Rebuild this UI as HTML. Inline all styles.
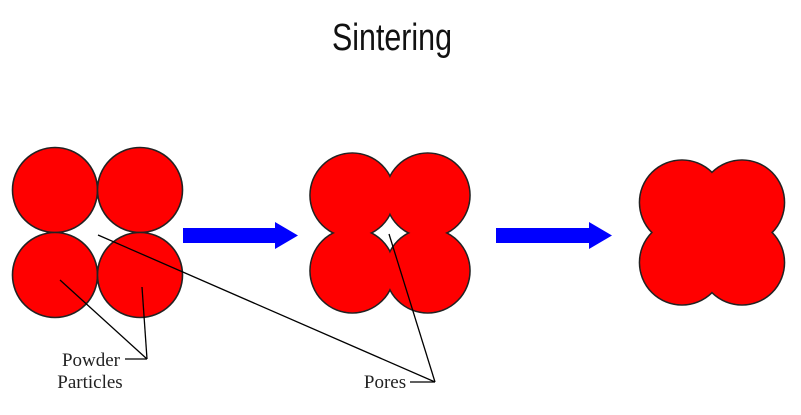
<!DOCTYPE html>
<html><head><style>
html,body{margin:0;padding:0;background:#fff;}
svg{display:block;}
</style></head><body>
<svg width="801" height="415" viewBox="0 0 801 415" xmlns="http://www.w3.org/2000/svg">
<text x="392" y="50" font-family="Liberation Sans, sans-serif" font-size="38" text-anchor="middle" transform="translate(392 0) scale(0.8 1) translate(-392 0)" fill="#111">Sintering</text>
<g stroke="#222" stroke-width="1.6" fill="#f00">
<circle cx="55" cy="190" r="42.5"/><circle cx="140" cy="190" r="42.5"/>
<circle cx="55" cy="275" r="42.5"/><circle cx="140" cy="275" r="42.5"/>
<circle cx="352.3" cy="195.3" r="42.3"/><circle cx="427.7" cy="195.3" r="42.3"/>
<circle cx="352.3" cy="270.7" r="42.3"/><circle cx="427.7" cy="270.7" r="42.3"/>
<circle cx="682" cy="202.5" r="42.5"/><circle cx="742" cy="202.5" r="42.5"/>
<circle cx="682" cy="262.5" r="42.5"/><circle cx="742" cy="262.5" r="42.5"/>
</g>
<g fill="#f00">
<circle cx="352.3" cy="195.3" r="41.5"/><circle cx="427.7" cy="195.3" r="41.5"/>
<circle cx="352.3" cy="270.7" r="41.5"/><circle cx="427.7" cy="270.7" r="41.5"/>
<circle cx="682" cy="202.5" r="41.7"/><circle cx="742" cy="202.5" r="41.7"/>
<circle cx="682" cy="262.5" r="41.7"/><circle cx="742" cy="262.5" r="41.7"/>
<rect x="692" y="212" width="40" height="40"/>
</g>
<polygon points="183,228 275,228 275,222 298,235.5 275,249 275,243 183,243" fill="#0000ff"/>
<polygon points="496,228 589,228 589,222 612,235.5 589,249 589,243 496,243" fill="#0000ff"/>
<g stroke="#000" stroke-width="1.3" fill="none">
<line x1="98" y1="235" x2="435" y2="382"/>
<line x1="389" y1="234" x2="435" y2="382"/>
<line x1="410" y1="382" x2="435" y2="382"/>
<line x1="60" y1="280" x2="147" y2="359"/>
<line x1="142" y1="287" x2="147" y2="359"/>
<line x1="125" y1="359" x2="147" y2="359"/>
</g>
<g font-family="Liberation Serif, serif" font-size="19" fill="#222">
<text x="120" y="366" text-anchor="end">Powder</text>
<text x="90" y="388" text-anchor="middle">Particles</text>
<text x="385" y="388" text-anchor="middle">Pores</text>
</g>
</svg>
</body></html>
